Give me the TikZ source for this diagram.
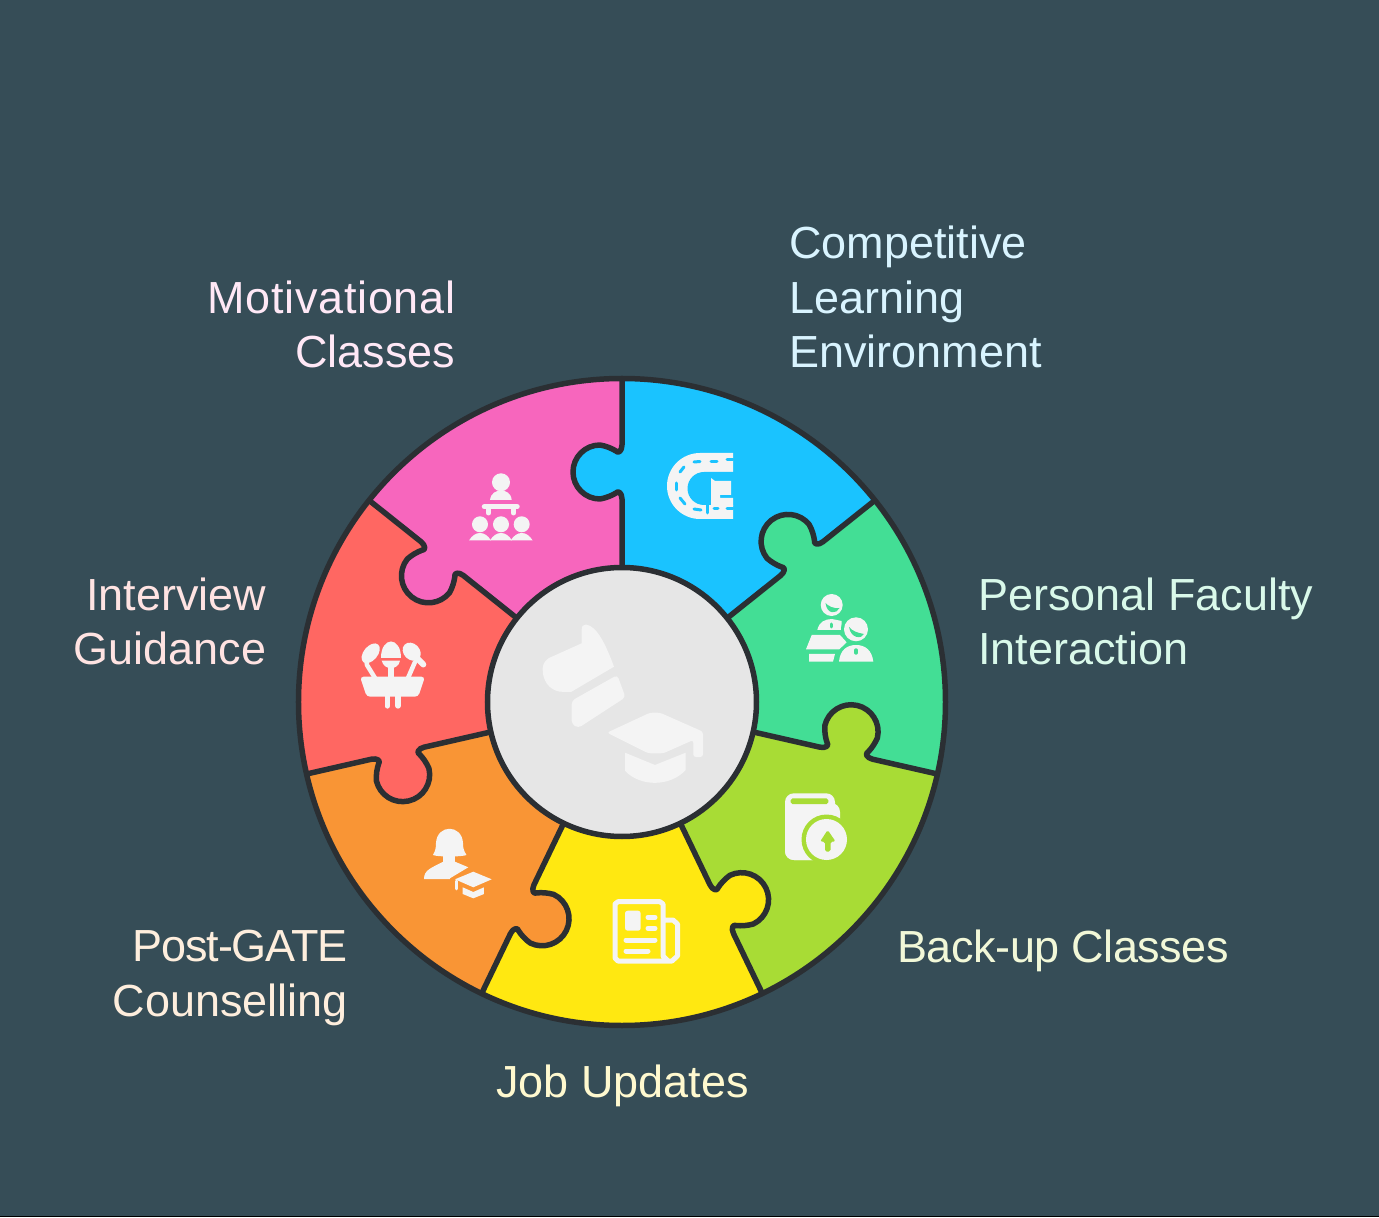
\documentclass[tikz,border=0pt]{standalone}
\usepackage{fontspec}
\setmainfont{Liberation Sans}
\definecolor{bgc}{RGB}{54,77,87}
\definecolor{linec}{RGB}{43,47,51}
\definecolor{hubc}{RGB}{230,230,230}
\definecolor{iconc}{RGB}{244,244,244}
\definecolor{pinkc}{RGB}{247,102,189}
\definecolor{bluec}{RGB}{26,195,255}
\definecolor{greenc}{RGB}{67,222,149}
\definecolor{limec}{RGB}{168,220,53}
\definecolor{yellowc}{RGB}{255,232,17}
\definecolor{orangec}{RGB}{249,149,53}
\definecolor{redc}{RGB}{255,103,98}
\definecolor{pinkt}{RGB}{255,232,246}
\definecolor{bluet}{RGB}{217,244,255}
\definecolor{greent}{RGB}{217,249,234}
\definecolor{limet}{RGB}{242,248,216}
\definecolor{yellowt}{RGB}{255,249,207}
\definecolor{oranget}{RGB}{254,238,221}
\definecolor{redt}{RGB}{255,227,226}
\newcommand{\knobpath}{(257,0) .. controls (251,0) and (248,4) .. (251,6) .. controls (253.5,10) and (256,16) .. (257,22) arc[start angle=0,end angle=180,radius=27] .. controls (204,16) and (206.5,10) .. (209,6) .. controls (212,4) and (209,0) .. (203,0)}
\tikzset{
  sidetext/.style={text=#1,inner sep=0pt,font=\fontsize{25.6}{31.1}\selectfont},
  seamline/.style={draw=linec,line width=0.11cm,line join=round},
  px/.style={shift={(-622,702)},yscale=-1},
  iconline/.style={line width=#1*0.02cm,line cap=round,line join=round}
}
\begin{document}
\begin{tikzpicture}[x=0.02cm,y=0.02cm]
  \fill[bgc] (-622,-515) rectangle (757,702);
  \fill[black] (-622,-515) rectangle (757,-514);
  \useasboundingbox (-622,-515) rectangle (757,702);
  % pieces
  \foreach \ang/\col in {90/pinkc,38.57/bluec,-12.86/greenc,-64.29/limec,-115.71/yellowc,-167.14/orangec,141.43/redc}
    \fill[\col] (0,0) -- (\ang:323.5) arc[start angle=\ang,delta angle=51.43,radius=323.5] -- cycle;
  \foreach \ang/\col in {90/bluec,38.57/greenc,-12.86/limec,-64.29/yellowc,-115.71/orangec,-167.14/redc,141.43/pinkc} {
    \begin{scope}[rotate=\ang]
      \fill[\col] \knobpath -- (203,-2) -- (257,-2) -- cycle;
      \draw[seamline] (323.5,0) -- \knobpath -- (134,0);
    \end{scope}
  }
  \draw[seamline] (0,0) circle[radius=323.5];
  \draw[seamline,fill=hubc] (0,0) circle[radius=134.5];
  % icons
  \begin{scope}[px]
    % hub
    \fill[iconc] (581.7,630) .. controls (581.7,626) and (583,624.5) .. (586,624.5) .. controls (597,626) and (606,645) .. (614,666.7) -- (571,692) -- (560,691.7) .. controls (549,690) and (542,680) .. (542.7,668) .. controls (543,663) and (546,660) .. (549,658) -- (581.7,643.3) -- cycle;
    \fill[iconc,rounded corners=2] (617.3,675) -- (625.5,697.3) -- (578.3,728) -- (571.7,724) -- (571.7,700.7) -- cycle;
    \fill[iconc,rounded corners=1.5] (607,732.7) -- (650,712.7) -- (660,712.7) -- (703,731.7) -- (703,757) -- (693.3,757) -- (693.3,740) -- (663.3,753.3) -- (648.3,753.3) -- cycle;
    \fill[iconc] (625,752.7) -- (655,765) -- (685.7,752.7) -- (685.7,770) .. controls (670,787) and (640,787) .. (625,770.7) -- cycle;
    % competitive
    \fill[iconc] (733,453) -- (700,453) arc[start angle=-90,end angle=-270,radius=33] -- (733,519) -- cycle;
    \fill[bluec] (734,472) -- (704,472) arc[start angle=-90,end angle=-270,radius=16.5] -- (734,505) -- cycle;
    \fill[iconc] (711,478) -- (715,481) -- (731,481) -- (731,495) -- (720,495) -- (720,498) -- (733,498) -- (733,506) -- (711,506) -- cycle;
    \draw[bluec,iconline=3] (707,505) -- (707,513);
    \foreach \xa/\ya/\xb/\yb in {694/462/700/461.5,711/461.5/717/461.5,727/460/733/460,684/467/680/472,676/483/676/490,680/498/685/504,694/509/701/510,714/509/718/509,727/509/733/509}
      \draw[bluec,iconline=3] (\xa,\ya) -- (\xb,\yb);
    % personal faculty
    \fill[iconc] (831.7,605) circle[radius=11];
    \fill[greenc] (825.5,603) .. controls (828,606) and (834,609) .. (839.5,608) .. controls (837,614) and (827,615) .. cycle;
    \fill[iconc] (817.3,630) .. controls (819,622) and (825,619) .. (832,619) -- (841.7,621) -- (841.7,630) -- cycle;
    \draw[greenc,iconline=3] (831.7,624) -- (831.7,627);
    \fill[iconc] (806,649.3) -- (811.7,635) -- (840,635) -- (846.7,642.3) -- (839.3,649.3) -- cycle;
    \fill[iconc] (809,654) -- (835,654) -- (833,661.7) -- (809,661.7) -- cycle;
    \fill[greenc] (856,629.3) circle[radius=15];
    \fill[iconc] (856,629.3) circle[radius=12];
    \fill[greenc] (849,627) .. controls (852,631) and (858,633) .. (864,634) .. controls (862,639) and (851,639) .. cycle;
    \fill[iconc] (839,661.7) .. controls (840,650) and (847,645) .. (856,645) .. controls (865,645) and (872,650) .. (873.3,661.7) -- cycle;
    \draw[greenc,iconline=3.4] (856,650) -- (856,653);
    % back-up
    \fill[iconc,rounded corners=5] (785,793.3) rectangle (835,860);
    \fill[iconc,rounded corners=5] (785,803) rectangle (840,860);
    \fill[limec,rounded corners=1] (790.7,798.3) rectangle (828.3,804);
    \fill[limec] (826.5,839.5) circle[radius=25];
    \fill[iconc] (826.5,839.5) circle[radius=20.5];
    \fill[limec,rounded corners=1] (827.7,830) -- (835.7,841.7) -- (830.5,841.7) -- (830.5,851.7) -- (825,851.7) -- (825,841.7) -- (820,841.7) -- cycle;
    % job updates
    \draw[iconc,iconline=5] (663,919.5) -- (663,904) -- (660,901.7) -- (618,901.7) -- (615,904) -- (615,958) -- (618,961) -- (672,961) -- (677.5,956) -- (677.5,924) -- (673,920) -- (663,920) -- (663,956) -- (668,961);
    \fill[iconc,rounded corners=1.5] (625,910.7) rectangle (640.7,930.7);
    \foreach \xa/\ya/\xb in {648/917.3/655,648/928.3/655,626/940/655,626/951/648}
      \draw[iconc,iconline=5] (\xa,\ya) -- (\xb,\ya);
    % post-gate
    \fill[iconc] (433,855) .. controls (436,850) and (436,846) .. (436,843) .. controls (437,824) and (462,824) .. (463,843) .. controls (463,846) and (463,850) .. (466.5,855) .. controls (462,857) and (437,857) .. cycle;
    \fill[iconc] (443.5,854) rectangle (455,864);
    \fill[iconc] (424,879) .. controls (424,870) and (431,868) .. (443.3,861.7) -- (455,861.7) -- (468.3,867.3) -- (450,878.3) -- (450,879) -- cycle;
    \fill[iconc] (455,879.3) -- (473.3,871.7) -- (491.7,879.3) -- (473.3,887.3) -- cycle;
    \fill[iconc] (462.7,887.3) -- (473.3,892) -- (484,887.3) -- (484,894) -- (473.3,898.3) -- (462.7,894) -- cycle;
    \draw[iconc,iconline=2.6] (456.5,881) -- (456.5,889);
    % interview
    \fill[iconc,rounded corners=2] (360,676.7) -- (425,676.7) -- (418.3,696.7) -- (366.7,696.7) -- cycle;
    \foreach \xl in {387.3,398}
      \draw[iconc,iconline=5.3] (\xl,696) -- (\xl,706);
    \fill[iconc] (381,658) .. controls (381,636) and (401,636) .. (401,658) -- cycle;
    \fill[iconc] (381.7,660.7) -- (400,660.7) .. controls (399,666) and (395,668) .. (391,668.3) .. controls (387,668) and (383,666) .. (381.7,660.7) -- cycle;
    \draw[iconc,iconline=5.3] (391,666) -- (391,678);
    \fill[iconc,rotate around={40:(370.7,653.3)}] (370.7,653.3) ellipse[x radius=7,y radius=11.5];
    \draw[iconc,iconline=4.5] (366,658) -- (367,665) -- (375,678);
    \fill[iconc,rotate around={-45:(411.7,651.7)}] (411.7,651.7) ellipse[x radius=8,y radius=10];
    \draw[iconc,iconline=6] (414,655) -- (423.3,664.5);
    \draw[iconc,iconline=4.5] (415,662) -- (408,678);
    % motivational
    \fill[iconc] (501,482.3) circle[radius=9];
    \fill[iconc] (490,500) .. controls (491,493) and (496,490.5) .. (501,490.5) .. controls (506,490.5) and (511,493) .. (511.7,500) -- cycle;
    \draw[iconc,iconline=5.5] (484.5,506.7) -- (517,506.7);
    \foreach \xl in {488.5,513.5}
      \draw[iconc,iconline=5] (\xl,508) -- (\xl,513);
    \foreach \xl in {480,501,521.7} {
      \fill[iconc] (\xl,524.3) circle[radius=8];
      \fill[iconc] (\xl-11,540.5) .. controls (\xl-8,535.5) and (\xl-4,533) .. (\xl,533) .. controls (\xl+4,533) and (\xl+8,535.5) .. (\xl+11,540.5) -- cycle;
    }
  \end{scope}
  % labels
  \begin{scope}[px]
    \node[sidetext=pinkt,anchor=base east,align=right] (motivational) at (455.5,368) {{\addfontfeature{LetterSpace=1.5}Motivational}\\Classes};
    \node[sidetext=bluet,anchor=base west,align=left] (competitive) at (789,368) {Competitive\\Learning\\Environment};
    \node[sidetext=greent,anchor=base west,align=left] (faculty) at (978,665) {Personal Faculty\\Interaction};
    \node[sidetext=limet,anchor=base west] (backup) at (897,962) {\addfontfeature{LetterSpace=-1}Back-up Classes};
    \node[sidetext=yellowt,anchor=base] (jobs) at (622.5,1097) {Job Updates};
    \node[sidetext=oranget,anchor=base east,align=right] (counselling) at (348,1016) {{\addfontfeature{LetterSpace=-2.5}Post-GATE}\\Counselling};
    \node[sidetext=redt,anchor=base east,align=right] (interview) at (266.5,665) {Interview\\Guidance};
  \end{scope}
\end{tikzpicture}
\end{document}
